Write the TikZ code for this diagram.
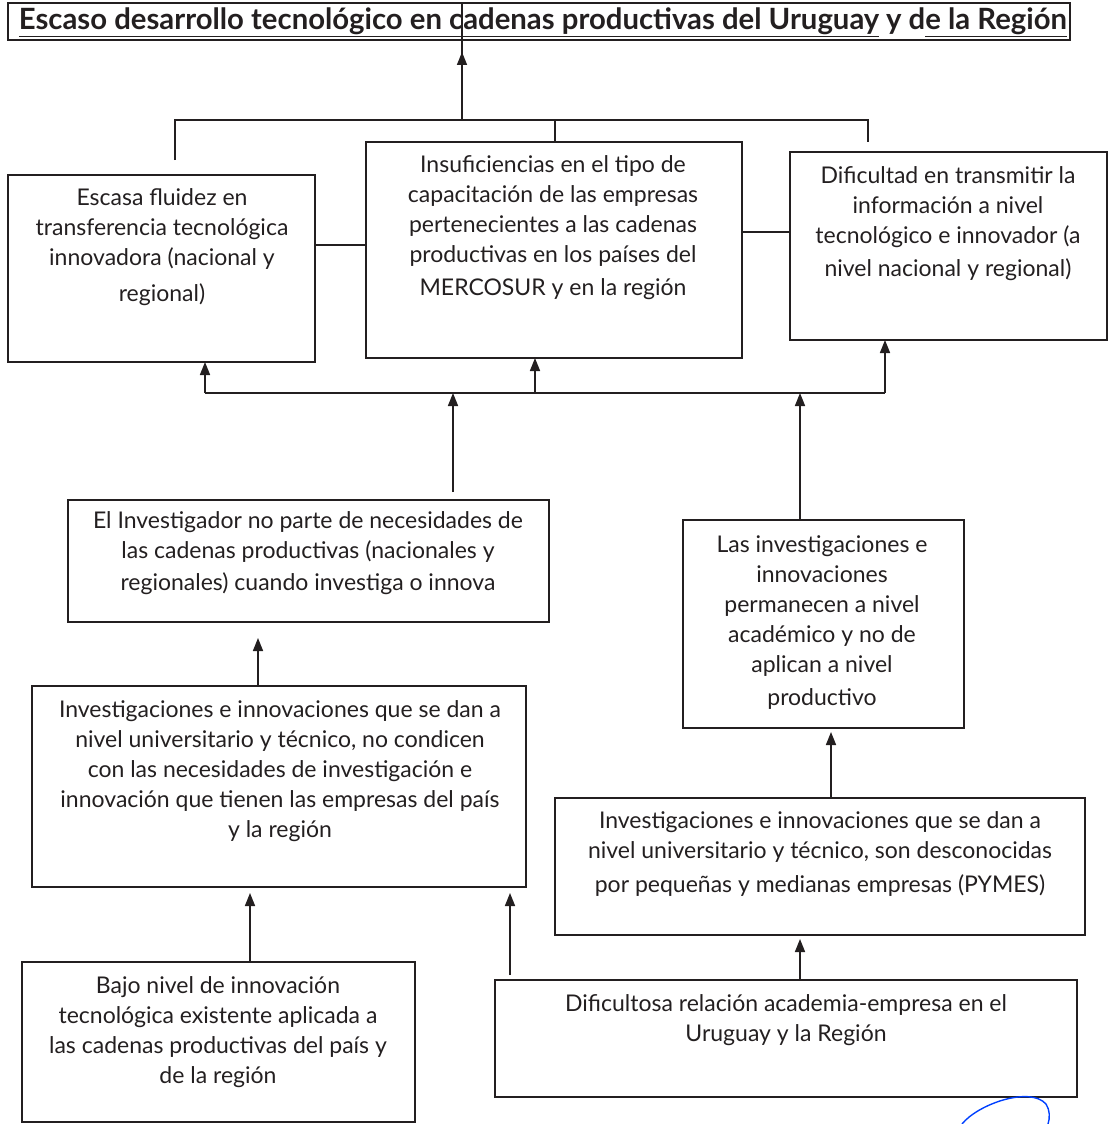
\documentclass[tikz,border=0pt]{standalone}
\usepackage{fontspec}
\setmainfont{Lato}
\usetikzlibrary{arrows.meta,calc}
\definecolor{ink}{HTML}{231F20}
\tikzset{
  box/.style={draw=ink, line width=1.6pt, anchor=north west, inner sep=0pt, outer sep=0pt},
  txt/.style={anchor=north, align=center, inner sep=0pt, text=ink, font=\fontsize{23}{30}\selectfont},
  conn/.style={draw=ink, line width=1.6pt},
  arr/.style={conn, -{Triangle[length=13pt,width=10pt]}},
}
\begin{document}
\begin{tikzpicture}[x=1pt,y=-1pt]
\useasboundingbox (0,0) rectangle (1109,1124);
\begin{scope}
\clip (0,0) rectangle (1109,1124);
% boxes
\node[box, minimum width=1062pt, minimum height=37pt] (title) at (8,3) {};
\node[box, minimum width=307pt, minimum height=187pt] (b1) at (8,175) {};
\node[box, minimum width=376pt, minimum height=216pt] (b2) at (366,142) {};
\node[box, minimum width=317pt, minimum height=188pt] (b3) at (790,152) {};
\node[box, minimum width=481pt, minimum height=122pt] (b4) at (68,500) {};
\node[box, minimum width=281pt, minimum height=208pt] (b5) at (683,520) {};
\node[box, minimum width=494pt, minimum height=201pt] (b6) at (32,686) {};
\node[box, minimum width=530pt, minimum height=137pt] (b7) at (555,798) {};
\node[box, minimum width=393pt, minimum height=160pt] (b8) at (22,962) {};
\node[box, minimum width=582pt, minimum height=117pt] (b9) at (495,980) {};

% texts
\node[anchor=center, inner sep=0pt, text=ink, font=\fontsize{29.3}{30}\selectfont\bfseries] (t0) at (543,22)
  {\underline{Escaso desarrollo tecnológico en cadenas productivas del Uruguay} y d\underline{e la Región}};
\node[txt] (t1) at (162,188) {Escasa fluidez en\\transferencia tecnológica\\innovadora (nacional y\\[6pt]regional)};
\node[txt] (t2) at (553,155) {Insuficiencias en el tipo de\\capacitación de las empresas\\pertenecientes a las cadenas\\productivas en los países del\\[3pt]MERCOSUR y en la región};
\node[txt] (t3) at (948,166) {Dificultad en transmitir la\\información a nivel\\tecnológico e innovador (a\\[3pt]nivel nacional y regional)};
\node[txt] (t4) at (308,511) {El Investigador no parte de necesidades de\\las cadenas productivas (nacionales y\\[2pt]regionales) cuando investiga o innova};
\node[txt] (t5) at (822,535) {Las investigaciones e\\innovaciones\\permanecen a nivel\\académico y no de\\aplican a nivel\\[3pt]productivo};
\node[txt] (t6) at (280,700) {Investigaciones e innovaciones que se dan a\\nivel universitario y técnico, no condicen\\con las necesidades de investigación e\\innovación que tienen las empresas del país\\y la región};
\node[txt] (t7) at (820,811) {Investigaciones e innovaciones que se dan a\\nivel universitario y técnico, son desconocidas\\[4pt]por pequeñas y medianas empresas (PYMES)};
\node[txt] (t8) at (218,976) {Bajo nivel de innovación\\tecnológica existente aplicada a\\las cadenas productivas del país y\\de la región};
\node[txt] (t9) at (786,994) {Dificultosa relación academia-empresa en el\\Uruguay y la Región};

% top bus
\coordinate (tl) at (175,160);
\coordinate (tlc) at (175,120);
\coordinate (tm) at (462,120);
\coordinate (tc) at (555,120);
\coordinate (trc) at (868,120);
\coordinate (tr) at (868,142);
\coordinate (tip0) at (462,52);
\draw[conn] (tl) -- (tlc) -- (trc) -- (tr);
\draw[conn] (tc) -- (b2.north -| tc);
\draw[conn] (tm) -- (title.north -| tm);
\draw[arr] (tm) -- (tip0);

% side links
\draw[conn] (b1.east |- 0,245) -- (b2.west |- 0,245);
\draw[conn] (b2.east |- 0,232) -- (b3.west |- 0,232);

% bottom bus
\coordinate (bl) at (205,393);
\coordinate (bm) at (535,393);
\coordinate (br) at (885,393);
\coordinate (x4) at (453,393);
\coordinate (x5) at (800,393);
\draw[conn] (bl) -- (br);
\draw[arr] (bl) -- (b1.south -| bl);
\draw[arr] (bm) -- (b2.south -| bm);
\draw[arr] (br) -- (b3.south -| br);
\draw[arr] ($(b4.north -| x4)+(0,-8)$) -- (x4);
\draw[arr] (b5.north -| x5) -- (x5);

% lower links
\coordinate (x6) at (258,0);
\draw[arr] (b6.north -| x6) -- ($(b4.south -| x6)+(0,16)$);
\coordinate (x8) at (250,0);
\draw[arr] (b8.north -| x8) -- ($(b6.south -| x8)+(0,6)$);
\coordinate (x9a) at (510,0);
\draw[arr] ($(b9.north -| x9a)+(0,-5)$) -- ($(b6.south -| x9a)+(0,6)$);
\coordinate (x7) at (831,0);
\draw[arr] (b7.north -| x7) -- ($(b5.south -| x7)+(0,4)$);
\coordinate (x9b) at (800,0);
\draw[arr] (b9.north -| x9b) -- ($(b7.south -| x9b)+(0,4)$);

% blue mark
\draw[blue!75!cyan, line width=1.4pt] (962,1124) .. controls (978,1104) and (1030,1086) .. (1046,1104) .. controls (1050,1110) and (1050,1118) .. (1048,1124);
\end{scope}
\end{tikzpicture}
\end{document}
